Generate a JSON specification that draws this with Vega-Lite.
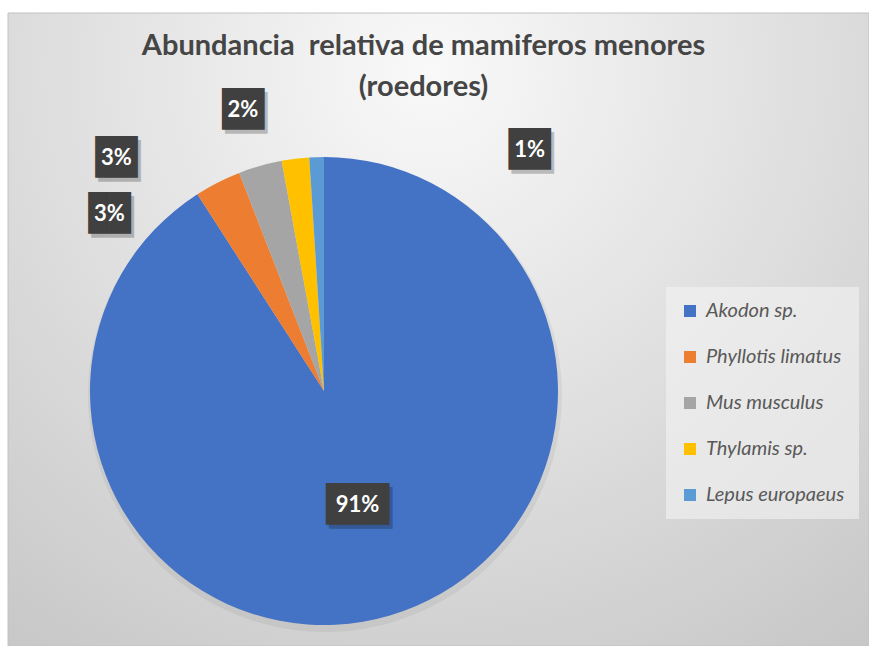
{
  "$schema": "https://vega.github.io/schema/vega-lite/v6.json",
  "width": 861,
  "height": 633,
  "autosize": {"type": "none"},
  "padding": {"left": 8, "top": 13, "right": 0, "bottom": 0},
  "background": "#ffffff",
  "config": {"view": {"stroke": null}},
  "title": {
    "text": ["Abundancia\u00a0 relativa de mamiferos menores", "(roedores)"],
    "anchor": "middle",
    "frame": "group",
    "orient": "top",
    "offset": 0,
    "baseline": "alphabetic",
    "dy": 112,
    "dx": -15,
    "font": "Lato",
    "fontSize": 29,
    "fontWeight": "bold",
    "color": "#454545",
    "lineHeight": 41
  },
  "data": {
    "values": [
      {"species": "Akodon sp.", "share": 0.909},
      {"species": "Phyllotis limatus", "share": 0.032},
      {"species": "Mus musculus", "share": 0.030},
      {"species": "Thylamis sp.", "share": 0.019},
      {"species": "Lepus europaeus", "share": 0.010}
    ]
  },
  "layer": [
    {
      "data": {"values": [{}]},
      "mark": {
        "type": "rect",
        "color": {
          "gradient": "radial",
          "x1": 0.49, "y1": 0.2, "r1": 0,
          "x2": 0.49, "y2": 0.2, "r2": 0.85,
          "stops": [
            {"offset": 0, "color": "#f9f9f9"},
            {"offset": 1, "color": "#c6c6c6"}
          ]
        },
        "stroke": "#c2c2c2",
        "strokeWidth": 1
      },
      "encoding": {}
    },
    {
      "mark": {"type": "arc", "outerRadius": 237, "x": 317, "y": 382, "fill": "#000000", "opacity": 0.05},
      "encoding": {
        "theta": {"field": "share", "type": "quantitative", "stack": true},
        "order": {"field": "share", "sort": "descending"}
      }
    },
    {
      "mark": {"type": "arc", "outerRadius": 234, "x": 316, "y": 378},
      "encoding": {
        "theta": {"field": "share", "type": "quantitative", "stack": true},
        "order": {"field": "share", "sort": "descending"},
        "color": {
          "field": "species",
          "type": "nominal",
          "scale": {
            "domain": ["Akodon sp.", "Phyllotis limatus", "Mus musculus", "Thylamis sp.", "Lepus europaeus"],
            "range": ["#4472C4", "#ED7D31", "#A5A5A5", "#FFC000", "#5B9BD5"]
          },
          "legend": {
            "orient": "none",
            "legendX": 658,
            "legendY": 274,
            "title": null,
            "symbolType": "square",
            "symbolSize": 144,
            "symbolStrokeWidth": 0,
            "symbolOpacity": 1,
            "labelFont": "Lato",
            "labelFontStyle": "italic",
            "labelFontSize": 20,
            "labelColor": "#595959",
            "rowPadding": 26,
            "labelOffset": 6,
            "labelLimit": 300,
            "padding": 14,
            "fillColor": "rgba(243,243,243,0.6)"
          }
        }
      }
    },
    {
      "mark": {
        "type": "text",
        "x": 316, "y": 378,
        "radius": {"expr": "datum.species == 'Akodon sp.' ? 119 : 270"},
        "dx": {"expr": "3 + (datum.species == 'Lepus europaeus' ? 214 : datum.species == 'Thylamis sp.' ? -48 : datum.species == 'Mus musculus' ? -134 : datum.species == 'Phyllotis limatus' ? -92 : 0)"},
        "dy": {"expr": "4 + (datum.species == 'Lepus europaeus' ? 29 : datum.species == 'Thylamis sp.' ? -13 : datum.species == 'Mus musculus' ? 27 : datum.species == 'Phyllotis limatus' ? 64 : 0)"},
        "font": "DejaVu Sans Mono",
        "fontSize": 35,
        "baseline": "middle",
        "align": "center",
        "color": "#000000",
        "opacity": 0.22
      },
      "encoding": {
        "theta": {"field": "share", "type": "quantitative", "stack": true},
        "order": {"field": "share", "sort": "descending"},
        "text": {"condition": {"test": "datum.share > 0.095", "value": "███"}, "value": "██"}
      }
    },
    {
      "mark": {
        "type": "text",
        "x": 316, "y": 378,
        "radius": {"expr": "datum.species == 'Akodon sp.' ? 119 : 270"},
        "dx": {"expr": "datum.species == 'Lepus europaeus' ? 214 : datum.species == 'Thylamis sp.' ? -48 : datum.species == 'Mus musculus' ? -134 : datum.species == 'Phyllotis limatus' ? -92 : 0"},
        "dy": {"expr": "datum.species == 'Lepus europaeus' ? 29 : datum.species == 'Thylamis sp.' ? -13 : datum.species == 'Mus musculus' ? 27 : datum.species == 'Phyllotis limatus' ? 64 : 0"},
        "font": "DejaVu Sans Mono",
        "fontSize": 35,
        "baseline": "middle",
        "align": "center",
        "color": "#404040"
      },
      "encoding": {
        "theta": {"field": "share", "type": "quantitative", "stack": true},
        "order": {"field": "share", "sort": "descending"},
        "text": {"condition": {"test": "datum.share > 0.095", "value": "███"}, "value": "██"}
      }
    },
    {
      "mark": {
        "type": "text",
        "x": 316, "y": 378,
        "radius": {"expr": "datum.species == 'Akodon sp.' ? 119 : 270"},
        "dx": {"expr": "datum.species == 'Lepus europaeus' ? 214 : datum.species == 'Thylamis sp.' ? -48 : datum.species == 'Mus musculus' ? -134 : datum.species == 'Phyllotis limatus' ? -92 : 0"},
        "dy": {"expr": "datum.species == 'Lepus europaeus' ? 29 : datum.species == 'Thylamis sp.' ? -13 : datum.species == 'Mus musculus' ? 27 : datum.species == 'Phyllotis limatus' ? 64 : 0"},
        "font": "Lato",
        "fontSize": 22,
        "fontWeight": "bold",
        "baseline": "middle",
        "align": "center",
        "color": "#ffffff"
      },
      "encoding": {
        "theta": {"field": "share", "type": "quantitative", "stack": true},
        "order": {"field": "share", "sort": "descending"},
        "text": {"field": "share", "type": "quantitative", "format": ".0%"}
      }
    }
  ]
}
